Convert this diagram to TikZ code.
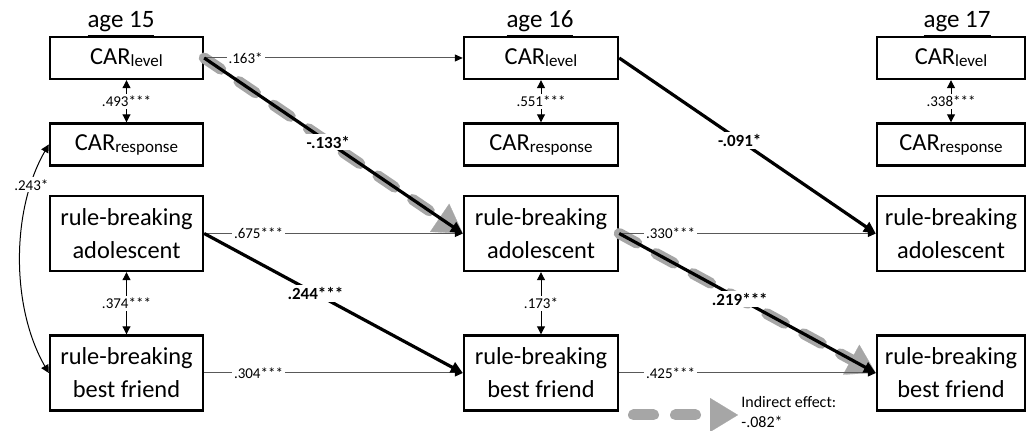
\documentclass[tikz,border=0pt]{standalone}
\usepackage{fontspec}
\setmainfont{Carlito}
\usetikzlibrary{arrows.meta}
\newcommand{\carsub}[1]{\raisebox{-1pt}{\fontsize{8.5}{9}\selectfont #1}}

\begin{document}
\begin{tikzpicture}[x=0.5pt,y=0.5pt,
	varbox/.style={draw,line width=1.2pt,inner sep=0pt,align=center,font=\fontsize{12.2}{16.5}\selectfont},
	carbox/.style={varbox,minimum height=21pt},
	rbbox/.style={varbox,minimum height=37.5pt},
	agehead/.style={anchor=base,inner sep=0pt,font=\fontsize{12.5}{14}\selectfont},
	effect/.style={draw=black!65,line width=0.5pt,-{Triangle[length=4pt,width=3.5pt,color=black]}},
	strong/.style={draw=black,line width=1.6pt,-{Triangle[length=6pt,width=5.5pt]}},
	corr/.style={draw=black,line width=0.5pt,{Triangle[length=4pt,width=4pt]}-{Triangle[length=4pt,width=4pt]}},
	coef/.style={fill=white,inner sep=1pt,font=\fontsize{7.5}{9}\selectfont},
	bcoef/.style={coef,font=\bfseries\fontsize{8.5}{10}\selectfont},
	indirect/.style={draw=black!35,line width=5.5pt,line cap=round,dash pattern=on 10pt off 11pt,-{Triangle[length=14pt,width=17pt,line width=0.1pt,color=black!35]}}
	]
			\useasboundingbox (0,0) rectangle (1032,431);

			% age 15
			\node (age15) at (121,403)[agehead]{\underline{age 15}};
			\node (lev15) at (126.5,373)[carbox,minimum width=76.5pt]{CAR\carsub{level}};
			\node (resp15) at (126.5,286.5)[carbox,minimum width=76.5pt]{CAR\carsub{response}};
			\node (adol15) at (126.5,197.5)[rbbox,minimum width=76.5pt]{rule-breaking\\adolescent};
			\node (bf15) at (126.5,58)[rbbox,minimum width=76.5pt]{rule-breaking\\best friend};

			% age 16
			\node (age16) at (540,403)[agehead]{\underline{age 16}};
			\node (lev16) at (541,373)[carbox,minimum width=77pt]{CAR\carsub{level}};
			\node (resp16) at (541,286.5)[carbox,minimum width=77pt]{CAR\carsub{response}};
			\node (adol16) at (541,197.5)[rbbox,minimum width=77pt]{rule-breaking\\adolescent};
			\node (bf16) at (541,58)[rbbox,minimum width=77pt]{rule-breaking\\best friend};

			% age 17
			\node (age17) at (957,403)[agehead]{\underline{age 17}};
			\node (lev17) at (951,373)[carbox,minimum width=74pt]{CAR\carsub{level}};
			\node (resp17) at (951,286.5)[carbox,minimum width=74pt]{CAR\carsub{response}};
			\node (adol17) at (951,197.5)[rbbox,minimum width=74pt]{rule-breaking\\adolescent};
			\node (bf17) at (951,58)[rbbox,minimum width=74pt]{rule-breaking\\best friend};

			% indirect path
			\draw[indirect] (lev15.east) -- (adol16.west);
			\draw[indirect] (adol16.east) -- (bf17.west);

			% within-age correlations
			\draw[corr] (lev15.south) -- node[coef]{.493***} (resp15.north);
			\draw[corr] (adol15.south) -- node[coef]{.374***} (bf15.north);
			\draw[corr] (lev16.south) -- node[coef]{.551***} (resp16.north);
			\draw[corr] (adol16.south) -- node[coef]{.173*} (bf16.north);
			\draw[corr] (lev17.south) -- node[coef]{.338***} (resp17.north);
			\draw[corr] (resp15.west) to[out=240,in=120,looseness=0.85] node[coef,pos=0.19]{.243*} (bf15.west);

			% stability paths
			\draw[effect] (lev15.east) -- node[coef,pos=0.16]{.163*} (lev16.west);
			\draw[effect] (adol15.east) -- node[coef,pos=0.21]{.675***} (adol16.west);
			\draw[effect] (bf15.east) -- node[coef,pos=0.21]{.304***} (bf16.west);
			\draw[effect] (adol16.east) -- node[coef,pos=0.2]{.330***} (adol17.west);
			\draw[effect] (bf16.east) -- node[coef,pos=0.2]{.425***} (bf17.west);

			% cross-lagged paths
			\draw[strong] (lev15.east) -- node[bcoef,pos=0.48]{-.133*} (adol16.west);
			\draw[strong] (adol15.east) -- node[bcoef,pos=0.43]{.244***} (bf16.west);
			\draw[strong] (lev16.east) -- node[bcoef,pos=0.47]{-.091*} (adol17.west);
			\draw[strong] (adol16.east) -- node[bcoef,pos=0.47]{.219***} (bf17.west);

			% legend
			\coordinate (legA) at (633.5,16);
			\coordinate (legB) at (738,16);
			\draw[indirect] (legA) -- (legB);
			\node (legtext) at (741,19)[anchor=west,inner sep=0pt,align=left,font=\fontsize{8}{10}\selectfont]{Indirect effect:\\-.082*};
		\end{tikzpicture}
\end{document}
